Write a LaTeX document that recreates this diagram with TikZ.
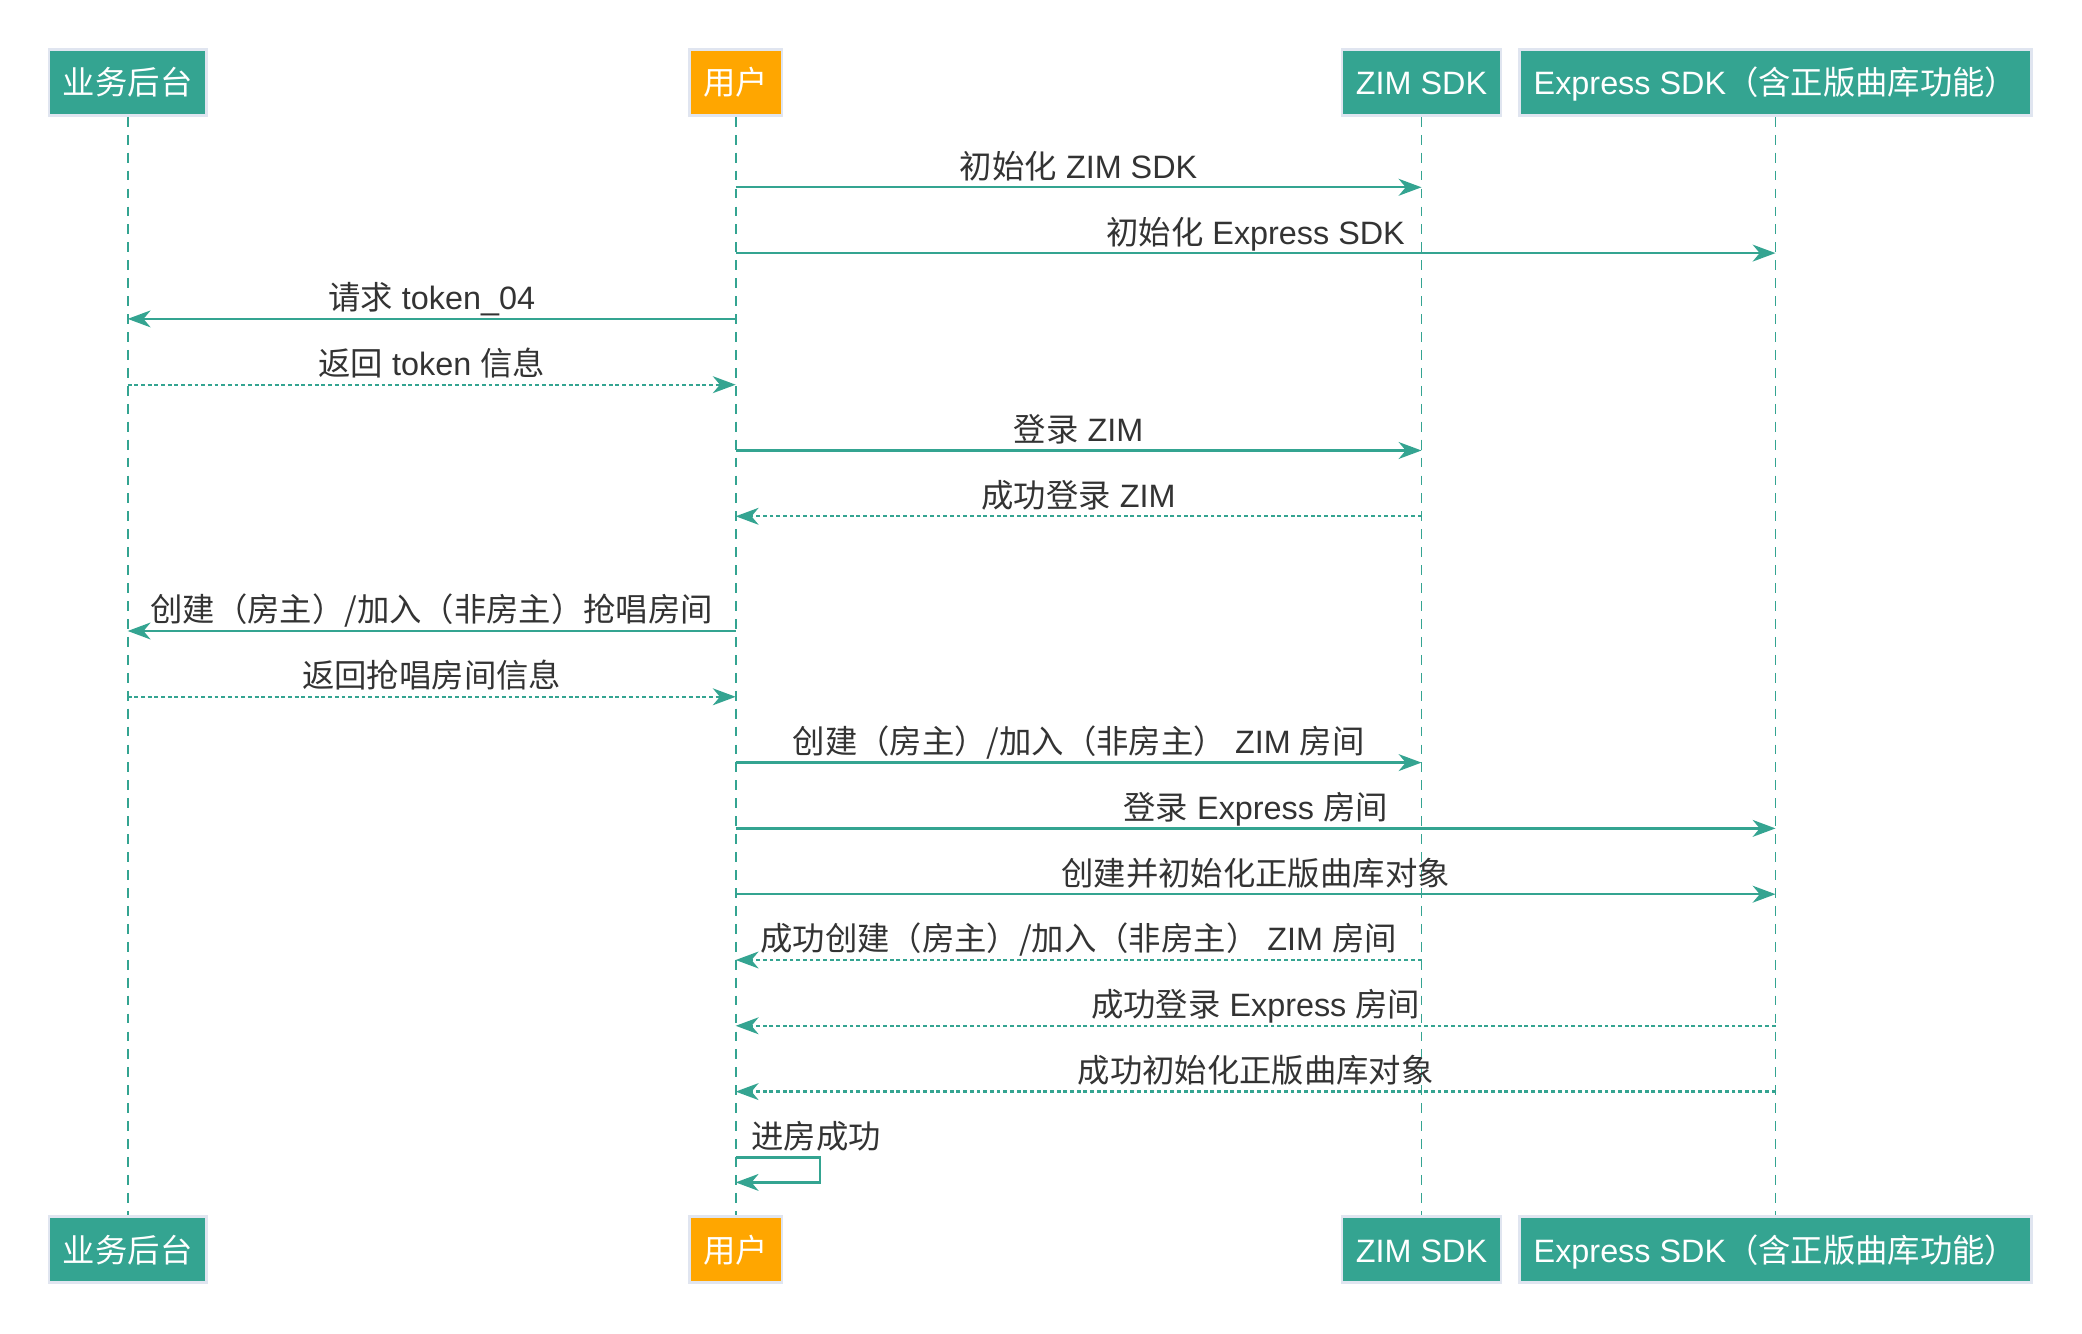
\documentclass[tikz,border=0pt]{standalone}
\usepackage{fontspec}
\setmainfont{Liberation Sans}
\newfontfamily\zhfont{Noto Sans CJK SC}
\usetikzlibrary{arrows.meta, positioning}
\definecolor{zegoteal}{RGB}{52, 164, 145}
\definecolor{useramber}{RGB}{255, 166, 0}
\definecolor{boxedge}{RGB}{224, 229, 240}
\definecolor{msgtext}{RGB}{51, 51, 51}

\begin{document}
\begin{tikzpicture}[x=0.01cm, y=-0.01cm,
  actor/.style={draw=boxedge, line width=0.75pt, fill=zegoteal, text=white,
    font=\fontsize{9.2}{11}\selectfont, inner xsep=0.14cm, inner ysep=0pt,
    minimum height=0.66cm, text height=8.1pt, text depth=1.1pt},
  lifeline/.style={draw=zegoteal, line width=0.55pt, dash pattern=on 2.8pt off 2.3pt},
  call/.style={draw=zegoteal, line width=0.65pt, -{Stealth[length=6.5pt, width=4.8pt, inset=2pt]}},
  reply/.style={call, dash pattern=on 1.1pt off 0.8pt},
  lbl/.style={midway, anchor=base, yshift=0.09cm, inner sep=0pt, text=msgtext,
    font=\fontsize{9.2}{11}\selectfont}]
  \useasboundingbox (0,0) rectangle (2082,1334);

  % rows of the messages
  \foreach \r/\y in {1/187.3, 2/253.1, 3/318.9, 4/384.7, 5/450.5, 6/516.3,
                     7/631.0, 8/696.8, 9/762.6, 10/828.4, 11/894.2, 12/960.0,
                     13/1025.8, 14/1091.6, 15/1157.4, 16/1182.4}
    \coordinate (r\r) at (0,\y);
  \coordinate (loopR) at (820,0);

  % Participants (top)
  \node[actor] (biz) at (127.7, 82.5) {{\zhfont 业务后台}};
  \node[actor, fill=useramber] (user) at (735.7, 82.5) {{\zhfont 用户}};
  \node[actor] (zim) at (1421.5, 82.5) {ZIM SDK};
  \node[actor, minimum width=5.1cm] (express) at (1775.5, 82.5) {Express SDK{\zhfont （含正版曲库功能）}};

  % Participants (bottom)
  \node[actor] (biz-foot) at (127.7, 1249.7) {{\zhfont 业务后台}};
  \node[actor, fill=useramber] (user-foot) at (735.7, 1249.7) {{\zhfont 用户}};
  \node[actor] (zim-foot) at (1421.5, 1249.7) {ZIM SDK};
  \node[actor, minimum width=5.1cm] (express-foot) at (1775.5, 1249.7) {Express SDK{\zhfont （含正版曲库功能）}};

  % Lifelines
  \foreach \p in {biz, user, zim, express}
    \draw[lifeline] (\p.south) -- (\p-foot.north);

  % Init
  \draw[call] (user |- r1) -- node[lbl] {{\zhfont 初始化} ZIM SDK} (zim |- r1);
  \draw[call] (user |- r2) -- node[lbl] {{\zhfont 初始化} Express SDK} (express |- r2);

  % Token
  \draw[call] (user |- r3) -- node[lbl] {{\zhfont 请求} token\_04} (biz |- r3);
  \draw[reply] (biz |- r4) -- node[lbl] {{\zhfont 返回} token {\zhfont 信息}} (user |- r4);

  % Login ZIM
  \draw[call] (user |- r5) -- node[lbl] {{\zhfont 登录} ZIM} (zim |- r5);
  \draw[reply] (zim |- r6) -- node[lbl] {{\zhfont 成功登录} ZIM} (user |- r6);

  % Room
  \draw[call] (user |- r7) -- node[lbl] {{\zhfont 创建（房主）/加入（非房主）抢唱房间}} (biz |- r7);
  \draw[reply] (biz |- r8) -- node[lbl] {{\zhfont 返回抢唱房间信息}} (user |- r8);
  \draw[call] (user |- r9) -- node[lbl] {{\zhfont 创建（房主）/加入（非房主）} ZIM {\zhfont 房间}} (zim |- r9);
  \draw[call] (user |- r10) -- node[lbl] {{\zhfont 登录} Express {\zhfont 房间}} (express |- r10);
  \draw[call] (user |- r11) -- node[lbl] {{\zhfont 创建并初始化正版曲库对象}} (express |- r11);
  \draw[reply] (zim |- r12) -- node[lbl] {{\zhfont 成功创建（房主）/加入（非房主）} ZIM {\zhfont 房间}} (user |- r12);
  \draw[reply] (express |- r13) -- node[lbl] {{\zhfont 成功登录} Express {\zhfont 房间}} (user |- r13);
  \draw[reply] (express |- r14) -- node[lbl] {{\zhfont 成功初始化正版曲库对象}} (user |- r14);

  % Self message
  \draw[call] (user |- r15) -| (loopR |- r16) -- (user |- r16);
  \node[anchor=base west, inner sep=0pt, xshift=0.15cm, yshift=0.09cm, text=msgtext,
    font=\fontsize{9.2}{11}\selectfont] (enter) at (user |- r15) {{\zhfont 进房成功}};
\end{tikzpicture}
\end{document}
